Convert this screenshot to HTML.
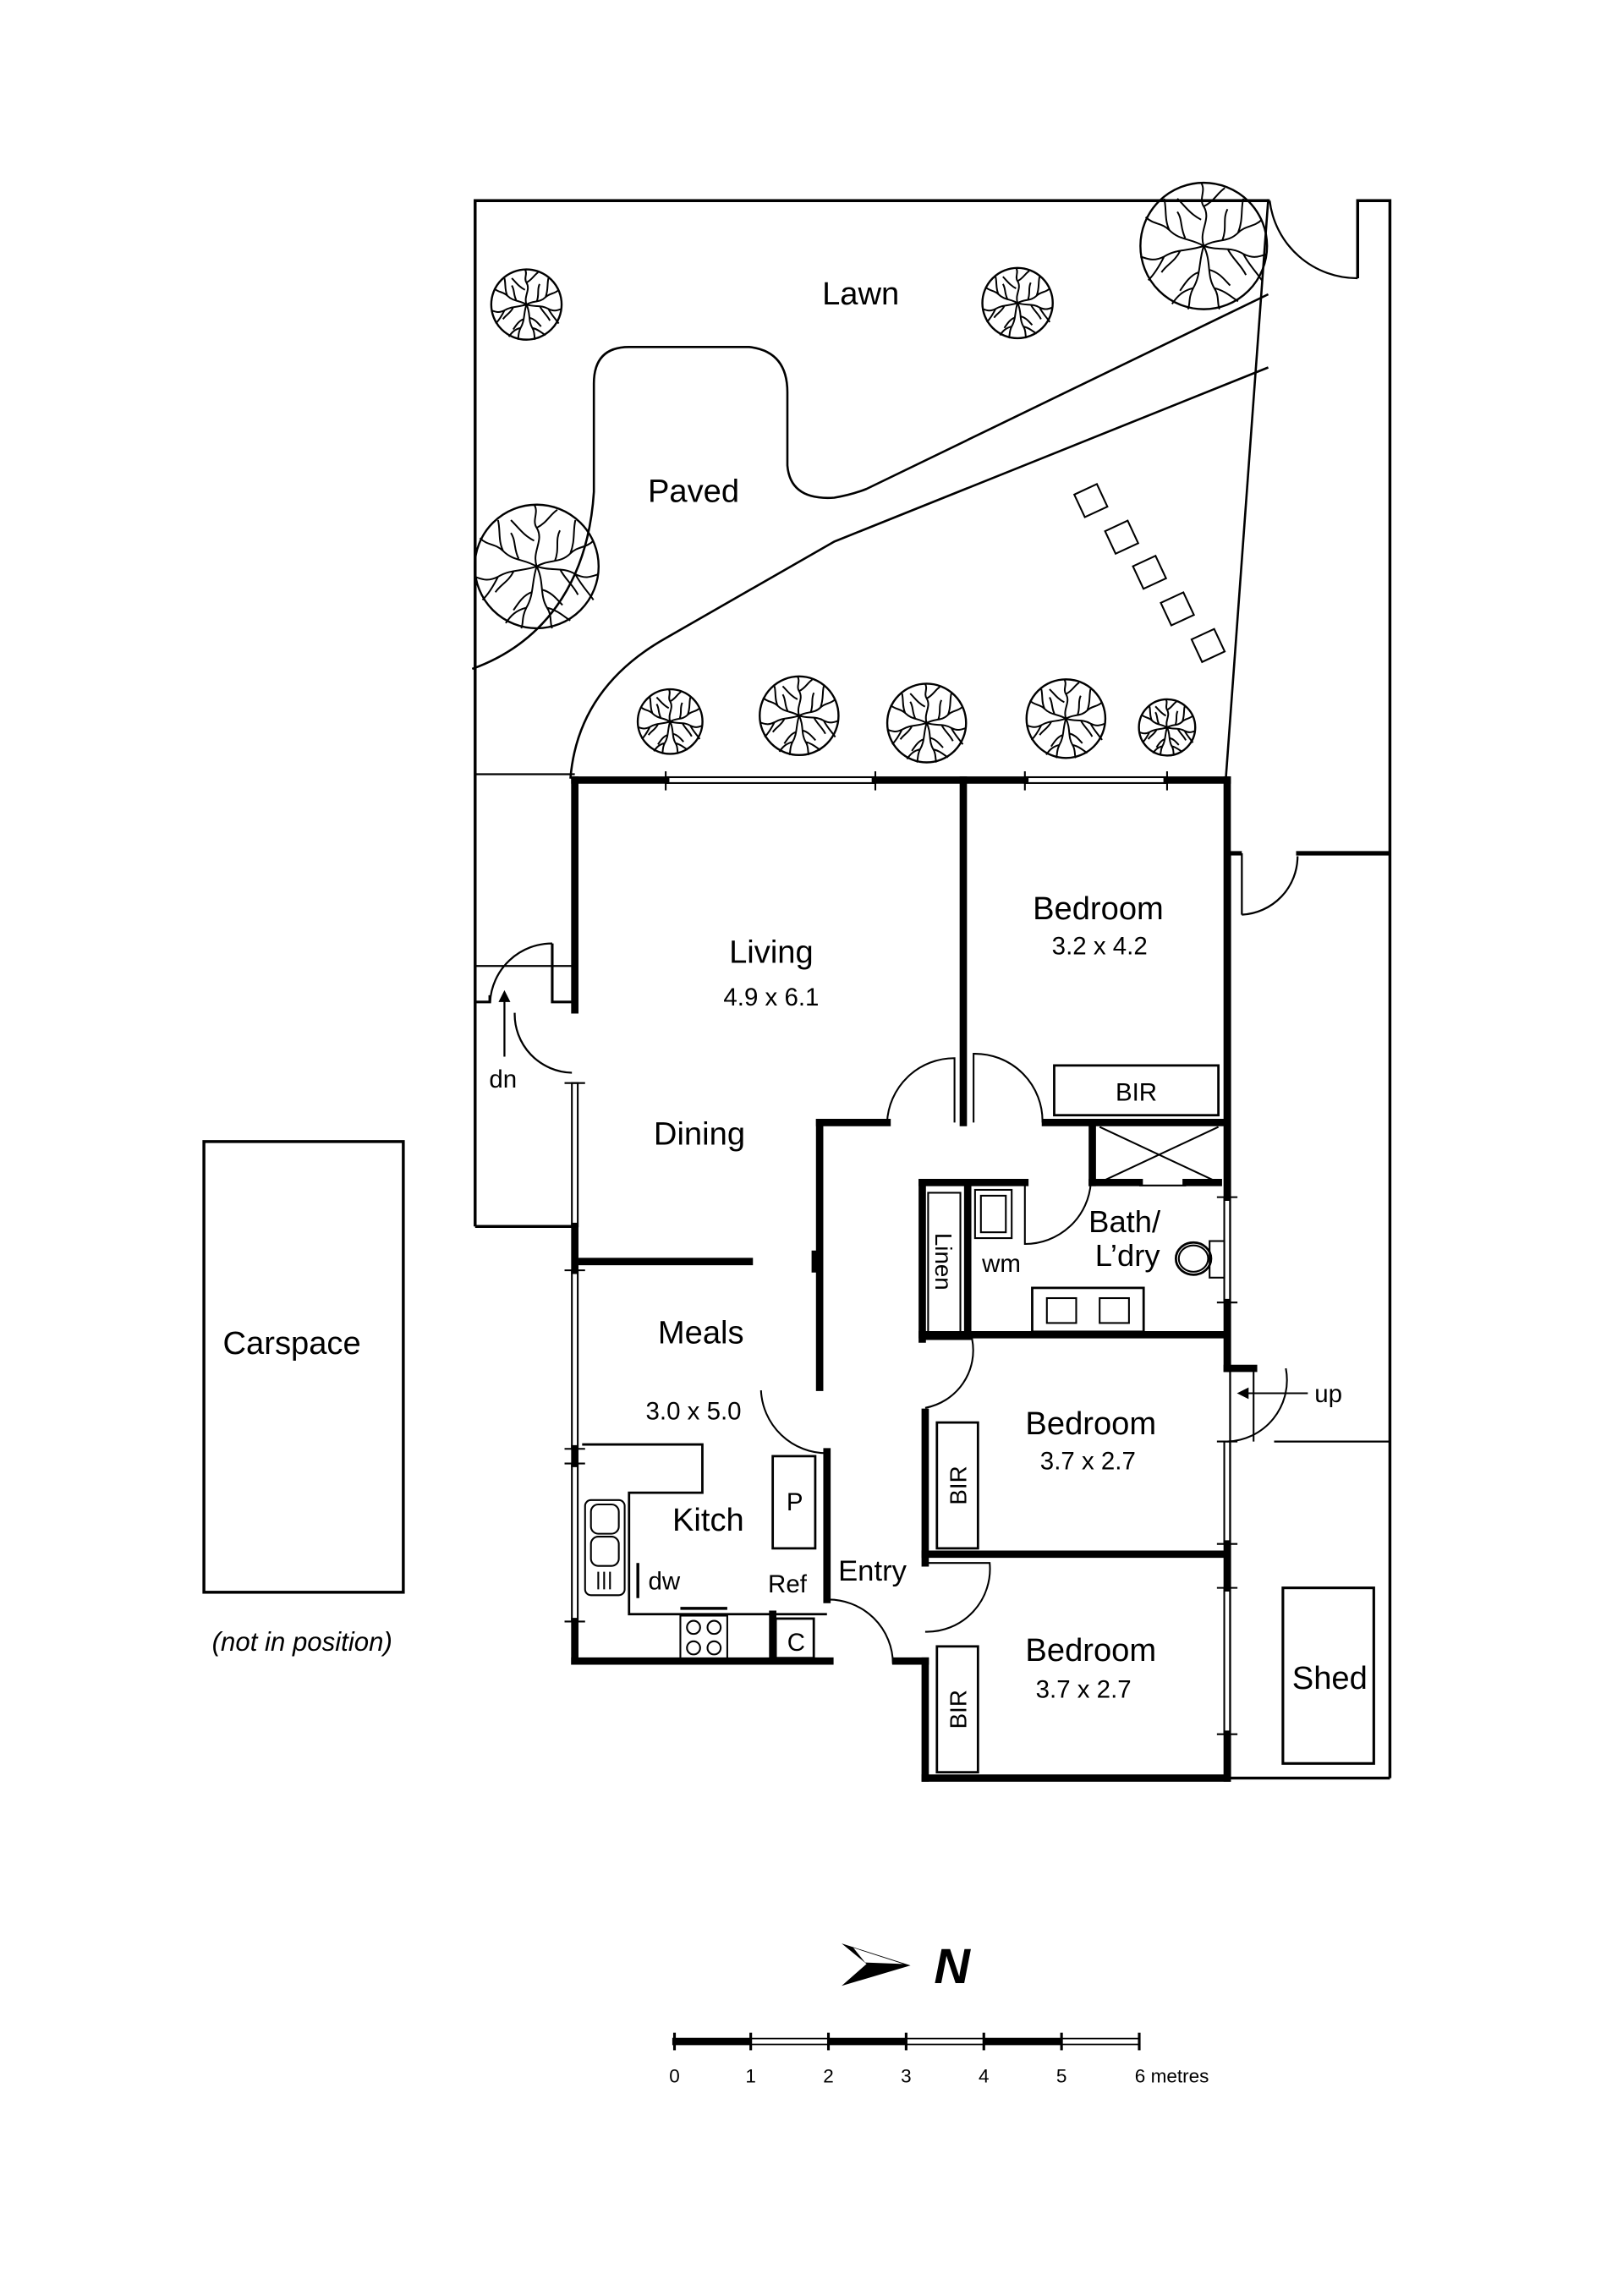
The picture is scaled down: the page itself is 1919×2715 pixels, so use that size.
<!DOCTYPE html>
<html><head><meta charset="utf-8"><style>
html,body{margin:0;padding:0;background:#fff;}
svg{display:block;}
text{font-family:"Liberation Sans",sans-serif;fill:#000;}
</style></head><body>
<svg width="1919" height="2715" viewBox="0 0 1100 1556" preserveAspectRatio="none" xmlns="http://www.w3.org/2000/svg">
<defs>
<g id="tree" fill="none" stroke="#000">
<circle cx="0" cy="0" r="48" stroke-width="2.4" vector-effect="non-scaling-stroke"/>
<g stroke-width="2" vector-effect="non-scaling-stroke">
<path vector-effect="non-scaling-stroke" d="M0,0 C-4,-12 6,-20 0,-30 C-4,-36 2,-42 -2,-48 M0,-30 C8,-34 10,-40 16,-44 M-2,-20 C-10,-24 -14,-30 -20,-36"/>
<path vector-effect="non-scaling-stroke" d="M0,0 C10,-6 18,-2 26,-10 C32,-16 38,-14 44,-20 M26,-10 C30,-20 28,-28 30,-36 M14,-4 C18,-14 14,-20 18,-28"/>
<path vector-effect="non-scaling-stroke" d="M0,0 C12,4 20,0 30,6 C38,10 42,8 48,6 M30,6 C34,14 40,20 44,26 M18,2 C22,10 28,14 32,22"/>
<path vector-effect="non-scaling-stroke" d="M0,0 C6,12 2,22 8,32 C12,38 10,44 12,48 M8,32 C16,34 20,38 26,42 M4,18 C12,20 16,26 20,30"/>
<path vector-effect="non-scaling-stroke" d="M0,0 C-4,12 -2,22 -8,32 C-12,40 -10,44 -12,48 M-8,32 C-16,34 -20,38 -24,44 M-4,20 C-10,22 -14,28 -18,34"/>
<path vector-effect="non-scaling-stroke" d="M0,0 C-12,4 -20,2 -30,8 C-38,12 -42,10 -48,8 M-30,8 C-34,16 -38,22 -42,26 M-18,4 C-22,12 -28,14 -32,20"/>
<path vector-effect="non-scaling-stroke" d="M0,0 C-10,-6 -18,-4 -26,-12 C-32,-18 -38,-16 -44,-22 M-26,-12 C-30,-20 -28,-28 -30,-36 M-14,-6 C-18,-14 -16,-20 -20,-26"/>
</g>
</g>
</defs>
<g transform="matrix(0.9936 0 0 0.9917 -0.9 0.1)">
<g fill="none" stroke="#000" stroke-width="1.3">
<polyline points="325,838 325,137 867,137" stroke-width="2"/>
<polyline points="927,190 927,137 949,137 949,1215" stroke-width="2"/>
<path d="M867,137 A60,60 0 0 0 927,190"/>
<path d="M866,136 L837,533" stroke-width="1.5"/>
<path d="M323,457 C370,440 402,400 406,336 L406,262 Q406,237 430,237 L512,237 Q538,240 538,268 L538,318 Q540,342 570,340 Q582,338 592,334 L866,201" stroke-width="1.5"/>
<path d="M866,251 L570,370 L455,436 Q395,470 390,532" stroke-width="1.5"/>
<g stroke-width="1.2">
<rect x="-8.5" y="-8.5" width="17" height="17" transform="translate(745,342) rotate(-25)"/>
<rect x="-8.5" y="-8.5" width="17" height="17" transform="translate(766,367) rotate(-25)"/>
<rect x="-8.5" y="-8.5" width="17" height="17" transform="translate(785,391) rotate(-25)"/>
<rect x="-8.5" y="-8.5" width="17" height="17" transform="translate(804,416) rotate(-25)"/>
<rect x="-8.5" y="-8.5" width="17" height="17" transform="translate(825,441) rotate(-25)"/>
</g>
<line x1="325" y1="838" x2="393" y2="838" stroke-width="2"/>
<line x1="325" y1="529" x2="393" y2="529"/>
<line x1="325" y1="660" x2="391" y2="660"/>
<polyline points="325,684.6 335,684.6 335,680" stroke-width="1.8"/>
<polyline points="377.6,644.6 377.6,684.6 391,684.6" stroke-width="1.8"/>
<path d="M377.6,644.6 A42.4,42.4 0 0 0 335.2,684.6"/>
<line x1="345" y1="722" x2="345" y2="682"/>
<path d="M345,678 l-3,6 h6 z" fill="#000"/>
<path d="M352,692 A40,40 0 0 0 391,733"/>
<line x1="840" y1="583" x2="840" y2="1215"/>
<line x1="885" y1="583" x2="949" y2="583" stroke-width="3"/>
<line x1="840" y1="583" x2="848" y2="583" stroke-width="3"/>
<line x1="848" y1="583" x2="848" y2="625"/>
<path d="M848,625 A40,40 0 0 0 886,585"/>
<line x1="870" y1="985" x2="949" y2="985"/>
<line x1="838" y1="1215" x2="949" y2="1215" stroke-width="2"/>
<rect x="876" y="1085" width="62" height="120" stroke-width="1.8"/>
<rect x="140" y="780" width="136" height="308" stroke-width="2"/>
</g>
<use href="#tree" transform="translate(360,208) scale(0.5)"/>
<use href="#tree" transform="translate(695,207) scale(0.5)"/>
<use href="#tree" transform="translate(822,168) scale(0.9)"/>
<use href="#tree" transform="translate(367,387) scale(0.88)"/>
<use href="#tree" transform="translate(458,493) scale(0.46)"/>
<use href="#tree" transform="translate(546,489) scale(0.56)"/>
<use href="#tree" transform="translate(633,494) scale(0.56)"/>
<use href="#tree" transform="translate(728,491) scale(0.56)"/>
<use href="#tree" transform="translate(797,497) scale(0.4)"/>
<g stroke="#000" stroke-width="5" fill="none" stroke-linecap="square">
<line x1="393" y1="533" x2="455" y2="533"/>
<line x1="598" y1="533" x2="700" y2="533"/>
<line x1="797" y1="533" x2="838" y2="533"/>
<line x1="393" y1="533" x2="393" y2="690"/>
<line x1="393" y1="838" x2="393" y2="868"/>
<line x1="393" y1="990" x2="393" y2="1000"/>
<line x1="393" y1="1108" x2="393" y2="1135"/>
<line x1="393" y1="1135" x2="567" y2="1135"/>
<line x1="398" y1="862" x2="512" y2="862"/>
<line x1="557" y1="857" x2="557" y2="867"/>
<line x1="560" y1="767" x2="560" y2="948"/>
<line x1="560" y1="767" x2="606" y2="767"/>
<line x1="658" y1="533" x2="658" y2="767"/>
<line x1="714" y1="767" x2="838" y2="767"/>
<line x1="838" y1="533" x2="838" y2="818"/>
<line x1="838" y1="890" x2="838" y2="935"/>
<line x1="838" y1="935" x2="856" y2="935"/>
<line x1="838" y1="1055" x2="838" y2="1085"/>
<line x1="838" y1="1185" x2="838" y2="1215"/>
<line x1="565" y1="992" x2="565" y2="1093"/>
<line x1="528" y1="1103" x2="528" y2="1135"/>
<line x1="746" y1="767" x2="746" y2="808"/>
<line x1="746" y1="808" x2="778" y2="808"/>
<line x1="810" y1="808" x2="832" y2="808"/>
<line x1="630" y1="808" x2="700" y2="808"/>
<line x1="630" y1="808" x2="630" y2="915"/>
<line x1="661" y1="808" x2="661" y2="912"/>
<line x1="630" y1="912" x2="838" y2="912"/>
<line x1="632" y1="965" x2="632" y2="1068"/>
<line x1="632" y1="1062" x2="838" y2="1062"/>
<line x1="632" y1="1135" x2="632" y2="1215"/>
<line x1="612" y1="1135" x2="632" y2="1135"/>
<line x1="632" y1="1215" x2="838" y2="1215"/>
</g>
<g fill="none" stroke="#000" stroke-width="1.2">
<rect x="455" y="531" width="143" height="4"/><line x1="455" y1="527" x2="455" y2="540"/><line x1="598" y1="527" x2="598" y2="540"/>
<rect x="700" y="531" width="97" height="4"/><line x1="700" y1="527" x2="700" y2="540"/><line x1="797" y1="527" x2="797" y2="540"/>
<rect x="391" y="740" width="4" height="98"/><line x1="386" y1="740" x2="400" y2="740"/>
<rect x="391" y="868" width="4" height="122"/><line x1="386" y1="868" x2="400" y2="868"/><line x1="386" y1="990" x2="400" y2="990"/>
<rect x="391" y="1000" width="4" height="108"/><line x1="386" y1="1000" x2="400" y2="1000"/><line x1="386" y1="1108" x2="400" y2="1108"/>
<rect x="836" y="818" width="4" height="72"/><line x1="831" y1="818" x2="845" y2="818"/><line x1="831" y1="890" x2="845" y2="890"/>
<rect x="836" y="985" width="4" height="70"/><line x1="831" y1="985" x2="845" y2="985"/><line x1="831" y1="1055" x2="845" y2="1055"/>
<rect x="836" y="1085" width="4" height="100"/><line x1="831" y1="1085" x2="845" y2="1085"/><line x1="831" y1="1185" x2="845" y2="1185"/>
<path d="M606,767 A46,46 0 0 1 652,723 L652,767"/>
<path d="M665,767 L665,720 A46,46 0 0 1 712,767"/>
<path d="M700,808 L700,850 A45,45 0 0 0 745,808"/>
<path d="M632,915 L664,915 A40,40 0 0 1 632,962"/>
<path d="M632,1068 L676,1068 A43,43 0 0 1 632,1115"/>
<path d="M565,1093 A44,44 0 0 1 610,1137"/>
<path d="M520,950 A45,45 0 0 0 565,993"/>
<path d="M878,935 A42,42 0 0 1 838,985"/>
<line x1="856" y1="935" x2="856" y2="985"/>
<line x1="893" y1="952" x2="850" y2="952"/>
<path d="M846,952 l6,-3 v6 z" fill="#000"/>
<rect x="720" y="728" width="112" height="34" stroke-width="1.6"/>
<rect x="640" y="972" width="28" height="86" stroke-width="1.6"/>
<rect x="640" y="1125" width="28" height="86" stroke-width="1.6"/>
<line x1="751" y1="770" x2="832" y2="808"/><line x1="832" y1="770" x2="751" y2="808"/>
<line x1="778" y1="810" x2="810" y2="810"/>
<rect x="634" y="815" width="22" height="97"/>
<rect x="666" y="813" width="25" height="33"/><rect x="670" y="817" width="17" height="25"/>
<rect x="705" y="880" width="76" height="30" stroke-width="1.6"/>
<rect x="715" y="887" width="20" height="17"/><rect x="751" y="887" width="20" height="17"/>
<ellipse cx="815" cy="860" rx="12" ry="11" stroke-width="1.6"/><ellipse cx="815" cy="860" rx="10" ry="9"/>
<rect x="826" y="848" width="10" height="25"/>
<polyline points="398,987 480,987 480,1020 430,1020 430,1103 565,1103" stroke-width="1.6"/>
<rect x="528" y="995" width="29" height="63" stroke-width="1.6"/>
<rect x="530" y="1106" width="26" height="27" stroke-width="1.6"/>
<rect x="465" y="1104" width="32" height="30"/>
<circle cx="474" cy="1112" r="4.5"/><circle cx="488" cy="1112" r="4.5"/><circle cx="474" cy="1126" r="4.5"/><circle cx="488" cy="1126" r="4.5"/>
<line x1="465" y1="1099" x2="497" y2="1099" stroke-width="2"/>
<rect x="400" y="1025" width="27" height="65" rx="4"/>
<rect x="404" y="1028" width="19" height="20" rx="5"/><rect x="404" y="1050" width="19" height="20" rx="5"/>
<line x1="409" y1="1074" x2="409" y2="1086"/><line x1="413" y1="1074" x2="413" y2="1086"/><line x1="417" y1="1074" x2="417" y2="1086"/>
<line x1="436" y1="1068" x2="436" y2="1092" stroke-width="2"/>
</g>
<path d="M575,1328 L622,1343 L575,1357 L592,1342 Z" fill="#000"/>
<path d="M583,1331 L617,1342 L591,1341 Z" fill="#fff"/>
<text x="638" y="1355" font-size="34" font-weight="bold" font-style="italic">N</text>
<g stroke="#000" fill="none">
<rect x="460" y="1393" width="318" height="4" stroke-width="1"/>
<line x1="460" y1="1395" x2="513" y2="1395" stroke-width="4"/>
<line x1="566" y1="1395" x2="619" y2="1395" stroke-width="4"/>
<line x1="672" y1="1395" x2="725" y2="1395" stroke-width="4"/>
<g stroke-width="1.8">
<line x1="461" y1="1389" x2="461" y2="1401"/><line x1="513" y1="1389" x2="513" y2="1401"/><line x1="566" y1="1389" x2="566" y2="1401"/><line x1="619" y1="1389" x2="619" y2="1401"/><line x1="672" y1="1389" x2="672" y2="1401"/><line x1="725" y1="1389" x2="725" y2="1401"/><line x1="778" y1="1389" x2="778" y2="1401"/>
</g>
</g>
<g font-size="13" text-anchor="middle">
<text x="461" y="1423">0</text><text x="513" y="1423">1</text><text x="566" y="1423">2</text><text x="619" y="1423">3</text><text x="672" y="1423">4</text><text x="725" y="1423">5</text>
<text x="775" y="1423" text-anchor="start">6 metres</text>
</g>
<g font-size="22" text-anchor="middle">
<text x="588" y="208">Lawn</text>
<text x="474" y="343">Paved</text>
<text x="527" y="658">Living</text>
<text x="750" y="628">Bedroom</text>
<text x="478" y="782">Dining</text>
<text x="479" y="918">Meals</text>
<text x="484" y="1046">Kitch</text>
<text x="745" y="980">Bedroom</text>
<text x="745" y="1135">Bedroom</text>
<text x="200" y="925">Carspace</text>
<text x="908" y="1154">Shed</text>
<text x="768" y="842" font-size="21">Bath/</text>
<text x="770" y="865" font-size="21">L’dry</text>
<text x="596" y="1080" font-size="20">Entry</text>
</g>
<g font-size="17" text-anchor="middle">
<text x="527" y="687">4.9 x 6.1</text>
<text x="751" y="652">3.2 x 4.2</text>
<text x="474" y="970">3.0 x 5.0</text>
<text x="743" y="1004">3.7 x 2.7</text>
<text x="740" y="1160">3.7 x 2.7</text>
<text x="776" y="752">BIR</text>
<text x="543" y="1032">P</text>
<text x="538" y="1088">Ref</text>
<text x="544" y="1128">C</text>
<text x="454" y="1086">dw</text>
<text x="684" y="869">wm</text>
<text x="344" y="743">dn</text>
<text x="907" y="958">up</text>
</g>
<g font-size="16" text-anchor="middle">
<text transform="translate(654,1015) rotate(-90)" y="6">BIR</text>
<text transform="translate(654,1168) rotate(-90)" y="6">BIR</text>
<text transform="translate(645,862) rotate(90)" y="6">Linen</text>
</g>
<text x="207" y="1128" font-size="18" font-style="italic" text-anchor="middle">(not in position)</text>
</g>
</svg>
</body></html>
